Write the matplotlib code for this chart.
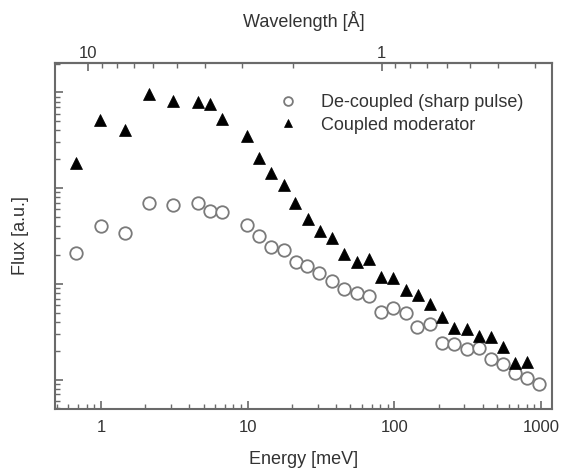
import matplotlib
matplotlib.use("Agg")
import matplotlib.pyplot as plt
from matplotlib.ticker import FixedLocator, NullFormatter, LogLocator
import numpy as np

plt.rcParams['font.family'] = ['Liberation Sans', 'DejaVu Sans']

# 数据：能量 [meV] 与通量 [a.u.]
e_decoupled = [0.675, 1.0, 1.46, 2.12, 3.11, 4.56, 5.56, 6.68, 9.89, 11.9, 14.4, 17.6,
               21.2, 25.5, 30.8, 37.4, 45.3, 55.3, 66.8, 80.7, 98.4, 119, 143, 174,
               211, 255, 311, 376, 453, 547, 667, 805, 972]
f_decoupled = [21.1, 40.5, 33.7, 69.4, 66.1, 70.4, 57.6, 55.9, 41.5, 31.9, 24.1, 22.5,
               17.0, 15.5, 12.9, 10.7, 8.77, 8.07, 7.51, 5.04, 5.55, 4.92, 3.56, 3.80,
               2.42, 2.33, 2.08, 2.12, 1.63, 1.45, 1.18, 1.03, 0.90]

e_coupled = [0.675, 0.984, 1.46, 2.12, 3.11, 4.56, 5.56, 6.68, 9.89, 11.9, 14.4, 17.6,
             21.0, 25.9, 31.1, 37.4, 45.5, 55.3, 67.1, 81.1, 98.4, 119.5, 144, 175,
             212, 255, 311, 377, 453, 547, 663, 798]
f_coupled = [181.6, 515, 405, 962, 807, 788, 762, 531, 353, 206, 143, 108,
             69, 47.5, 35.6, 29.9, 20.3, 17.0, 18.0, 11.7, 11.4, 8.61, 7.64, 6.11,
             4.53, 3.43, 3.35, 2.85, 2.80, 2.20, 1.48, 1.51]

lam_major = [10, 1]
lam_minor = [9, 8, 7, 6, 5, 4, 3, 2, 0.9, 0.8, 0.7, 0.6, 0.5, 0.4, 0.3]

text_c = '#333333'
frame_c = '#6a6a6a'

fig = plt.figure(figsize=(5.70, 4.71), dpi=100)
ax = fig.add_axes([0.0965, 0.131, 0.872, 0.736])

ax.plot(e_decoupled, f_decoupled, 'o', ms=9, mfc='white', mec='#7a7a7a', mew=1.3,
        label='De-coupled (sharp pulse)')
ax.plot(e_coupled, f_coupled, '^', ms=8.5, mfc='black', mec='black', mew=0.5,
        label='Coupled moderator')

ax.set_xscale('log')
ax.set_yscale('log')
ax.set_xlim(0.486, 1186)
ax.set_ylim(0.489, 2042)

# 坐标轴样式
for s in ax.spines.values():
    s.set_color(frame_c)
    s.set_linewidth(1.5)
ax.tick_params(which='both', direction='in', colors=frame_c, labelcolor=text_c,
               labelsize=12, right=False, top=False)
ax.tick_params(which='major', length=6, width=1.2)
ax.tick_params(which='minor', length=3.5, width=1.0)
ax.tick_params(axis='x', pad=8)
ax.xaxis.set_major_locator(FixedLocator([1, 10, 100, 1000]))
ax.set_xticklabels(['1', '10', '100', '1000'])
ax.yaxis.set_major_locator(LogLocator(base=10, numticks=10))
ax.yaxis.set_minor_locator(LogLocator(base=10, subs=np.arange(2, 10), numticks=10))
ax.yaxis.set_major_formatter(NullFormatter())
ax.yaxis.set_minor_formatter(NullFormatter())

ax.set_xlabel('Energy [meV]', fontsize=13, color=text_c, labelpad=11)
ax.set_ylabel('Flux [a.u.]', fontsize=13, color=text_c, labelpad=15)

# 顶部波长轴
sec = ax.secondary_xaxis('top', functions=(lambda e: 9.045 / np.sqrt(np.clip(e, 1e-9, None)),
                                           lambda l: 81.81 / np.clip(l, 1e-9, None) ** 2))
sec.xaxis.set_major_locator(FixedLocator(lam_major))
sec.xaxis.set_minor_locator(FixedLocator(lam_minor))
sec.set_xticklabels(['10', '1'])
sec.xaxis.set_minor_formatter(NullFormatter())
sec.spines['top'].set_color(frame_c)
sec.spines['top'].set_linewidth(1.5)
sec.tick_params(which='both', direction='in', colors=frame_c, labelcolor=text_c,
                labelsize=12, pad=1)
sec.tick_params(which='major', length=6, width=1.2)
sec.tick_params(which='minor', length=3.5, width=1.0)
sec.set_xlabel('Wavelength [Å]', fontsize=13, color=text_c, labelpad=14)

leg = ax.legend(loc='upper left', bbox_to_anchor=(0.436, 0.93), frameon=False,
                fontsize=13, markerscale=0.7, handletextpad=1.35, labelspacing=0.3,
                handlelength=1.0, borderaxespad=0)
for t in leg.get_texts():
    t.set_color(text_c)

fig.savefig('out.png', dpi=100)
